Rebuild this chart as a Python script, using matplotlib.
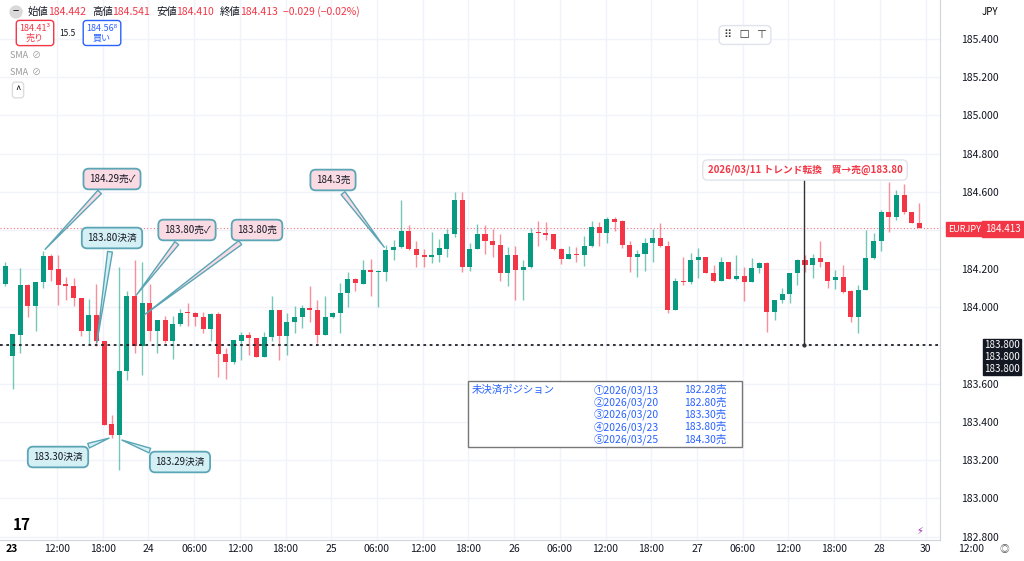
import numpy as np
import matplotlib
matplotlib.use("Agg")
import matplotlib.pyplot as plt

plt.rcParams['font.family'] = ['Noto Sans CJK JP', 'DejaVu Sans']

# hourly EURJPY candles, first one is 23rd ~05:00
opens = [184.121, 183.745, 183.855, 184.116, 184.006, 184.128, 184.267, 184.197, 184.121, 184.110,
         184.046, 183.872, 183.957, 183.820, 183.390, 183.332, 183.663, 184.058, 183.797, 184.020,
         183.872, 183.933, 183.820, 183.912, 183.975, 183.968, 183.947, 183.884, 183.964, 183.755,
         183.710, 183.820, 183.855, 183.837, 183.741, 183.842, 183.985, 183.846, 183.924, 183.950,
         183.997, 183.982, 183.855, 183.947, 183.968, 184.072, 184.145, 184.121, 184.194, 184.182,
         184.180, 184.295, 184.312, 184.397, 184.305, 184.272, 184.263, 184.269, 184.302, 184.382,
         184.556, 184.211, 184.302, 184.382, 184.347, 184.324, 184.176, 184.272, 184.194, 184.208,
         184.389, 184.385, 184.382, 184.303, 184.251, 184.276, 184.272, 184.319, 184.420, 184.385,
         184.458, 184.450, 184.324, 184.260, 184.276, 184.336, 184.359, 184.319, 183.985, 184.136,
         184.128, 184.243, 184.260, 184.176, 184.138, 184.237, 184.145, 184.164, 184.129, 184.203,
         184.232, 183.976, 184.034, 184.067, 184.176, 184.243, 184.220, 184.255, 184.234, 184.142,
         184.154, 184.081, 183.950, 184.089, 184.255, 184.342, 184.498, 184.469, 184.585, 184.498,
         184.441]
highs = [184.237, 183.860, 184.203, 184.121, 184.131, 184.290, 184.277, 184.272, 184.159, 184.150,
         184.046, 184.041, 184.121, 183.820, 183.437, 184.211, 184.081, 184.246, 184.237, 184.121,
         183.933, 183.954, 183.954, 183.988, 184.023, 183.976, 183.976, 183.971, 183.976, 183.785,
         183.825, 183.867, 183.867, 183.837, 183.867, 184.058, 183.985, 183.968, 184.006, 184.011,
         184.107, 184.037, 184.055, 183.976, 184.124, 184.180, 184.150, 184.246, 184.249, 184.194,
         184.324, 184.350, 184.556, 184.427, 184.345, 184.302, 184.389, 184.354, 184.406, 184.601,
         184.601, 184.333, 184.434, 184.429, 184.408, 184.382, 184.312, 184.319, 184.246, 184.411,
         184.450, 184.444, 184.382, 184.307, 184.316, 184.312, 184.368, 184.451, 184.444, 184.472,
         184.469, 184.455, 184.342, 184.295, 184.359, 184.408, 184.441, 184.342, 184.150, 184.263,
         184.281, 184.307, 184.260, 184.220, 184.260, 184.237, 184.272, 184.208, 184.255, 184.237,
         184.237, 184.034, 184.098, 184.176, 184.253, 184.272, 184.277, 184.342, 184.234, 184.194,
         184.220, 184.089, 184.116, 184.403, 184.385, 184.504, 184.655, 184.611, 184.643, 184.498,
         184.542]
lows = [184.110, 183.571, 183.759, 183.950, 183.872, 184.098, 184.133, 184.011, 184.037, 184.006,
        183.846, 183.802, 183.794, 183.385, 183.315, 183.150, 183.620, 183.762, 183.646, 183.820,
        183.762, 183.811, 183.727, 183.898, 183.898, 183.898, 183.863, 183.820, 183.634, 183.623,
        183.703, 183.724, 183.750, 183.741, 183.741, 183.820, 183.724, 183.750, 183.863, 183.889,
        183.924, 183.811, 183.855, 183.942, 183.863, 184.002, 184.081, 184.121, 184.055, 184.002,
        184.133, 184.243, 184.307, 184.298, 184.208, 184.211, 184.232, 184.237, 184.263, 184.364,
        184.185, 184.190, 184.302, 184.276, 184.263, 184.133, 184.110, 184.037, 184.037, 184.203,
        184.319, 184.350, 184.298, 184.223, 184.251, 184.237, 184.215, 184.312, 184.316, 184.336,
        184.399, 184.309, 184.180, 184.159, 184.190, 184.234, 184.312, 183.968, 183.982, 184.116,
        184.121, 184.150, 184.176, 184.128, 184.133, 184.145, 184.142, 184.029, 184.129, 184.176,
        183.867, 183.933, 184.023, 184.020, 184.116, 184.185, 184.150, 184.211, 184.098, 184.093,
        184.075, 183.924, 183.863, 184.089, 184.249, 184.290, 184.394, 184.455, 184.486, 184.437,
        184.411]
closes = [184.215, 183.860, 184.116, 184.006, 184.131, 184.267, 184.194, 184.116, 184.107, 184.046,
          183.872, 183.957, 183.820, 183.385, 183.332, 183.663, 184.058, 183.797, 184.020, 183.872,
          183.933, 183.820, 183.912, 183.971, 183.968, 183.947, 183.884, 183.964, 183.755, 183.710,
          183.825, 183.855, 183.837, 183.741, 183.842, 183.985, 183.846, 183.924, 183.950, 183.997,
          183.982, 183.855, 183.947, 183.968, 184.072, 184.145, 184.124, 184.194, 184.182, 184.185,
          184.295, 184.312, 184.397, 184.302, 184.272, 184.263, 184.269, 184.307, 184.382, 184.556,
          184.211, 184.302, 184.382, 184.347, 184.324, 184.176, 184.272, 184.194, 184.208, 184.385,
          184.385, 184.378, 184.303, 184.251, 184.276, 184.270, 184.319, 184.420, 184.385, 184.458,
          184.446, 184.324, 184.260, 184.276, 184.336, 184.359, 184.319, 183.985, 184.136, 184.128,
          184.243, 184.260, 184.176, 184.138, 184.237, 184.145, 184.164, 184.129, 184.203, 184.232,
          183.976, 184.034, 184.067, 184.176, 184.246, 184.220, 184.255, 184.234, 184.138, 184.154,
          184.079, 183.950, 184.089, 184.255, 184.342, 184.498, 184.469, 184.585, 184.498, 184.437,
          184.413]

price_ticks = [182.8, 183.0, 183.2, 183.4, 183.6, 183.8, 184.0, 184.2, 184.4, 184.6, 184.8, 185.0, 185.2, 185.4]
time_ticks = [12, 18, 24, 30, 36, 42, 48, 54, 60, 66, 72, 78, 84, 90, 96, 102, 108, 114, 120, 126]
time_labels = ["12:00", "18:00", "24", "06:00", "12:00", "18:00", "25", "06:00", "12:00", "18:00", "26",
               "06:00", "12:00", "18:00", "27", "06:00", "12:00", "18:00", "28", "30"]
last_price = 184.413
trend_price = 183.80
positions = ["①2026/03/13", "②2026/03/20", "③2026/03/20", "④2026/03/23", "⑤2026/03/25"]
pos_prices = ["182.28売", "182.80売", "183.30売", "183.80売", "184.30売"]

UP, DN = '#089981', '#f23645'
W, H = 1024, 561

def fp(x, y):
    return (x / W, 1 - y / H)

fig = plt.figure(figsize=(W / 100, H / 100), dpi=100)
ax = fig.add_axes([0, 21 / H, 940 / W, 540 / H])
hours = np.arange(len(opens)) + 5.18

for t in time_ticks:
    ax.axvline(t, color='#f0f3fa', lw=1, zorder=0)
for p in price_ticks:
    ax.axhline(p, color='#f0f3fa', lw=1, zorder=0)

for h, o, hi, lo, c in zip(hours, opens, highs, lows, closes):
    col = UP if c >= o else DN
    ax.vlines(h, lo, hi, color=col, lw=1, alpha=0.55, zorder=2)
    ax.bar(h, max(abs(c - o), 0.004), bottom=min(o, c), width=0.66, color=col, zorder=3, lw=0)

ax.axhline(trend_price, color='#222', ls=(0, (1.5, 2)), lw=1.3, zorder=4)
ax.axhline(last_price, color=DN, ls=(0, (1, 2)), lw=0.8, alpha=0.7, zorder=1)

# right price axis
ax.set_yticks(price_ticks)
ax.yaxis.tick_right()
ax.set_yticklabels(["" if p in (183.8, 184.4) else f"{p:.3f}" for p in price_ticks],
                   fontsize=7.5, color='#131722')
ax.tick_params(axis='y', length=0, pad=15)
ax.set_xticks(time_ticks)
ax.set_xticklabels(time_labels, fontsize=7.5, color='#131722')
ax.tick_params(axis='x', length=0, pad=3)
ax.set_xlim(4.52, 127.9)
ax.set_ylim(182.783, 185.603)
for s in ['top', 'left']:
    ax.spines[s].set_visible(False)
ax.spines['right'].set_color('#d1d4dc')
ax.spines['bottom'].set_color('#d1d4dc')
fig.text(*fp(12, 549), "23", fontsize=7.5, fontweight='bold', ha='center', va='center')
fig.text(*fp(971, 549), "12:00", fontsize=7.5, color='#131722', ha='center', va='center')

# price labels on the axis
fig.text(*fp(965, 229), "EURJPY", fontsize=6.5, color='white', ha='center', va='center',
         bbox=dict(boxstyle='square,pad=0.3', fc=DN, ec=DN))
fig.text(*fp(1003, 229), f"{last_price:.3f}", fontsize=7, color='white', ha='center', va='center',
         bbox=dict(boxstyle='square,pad=0.3', fc=DN, ec=DN))
for yy in [345, 357, 369]:
    fig.text(*fp(1002, yy), f"{trend_price:.3f}", fontsize=7, color='white', ha='center', va='center',
             bbox=dict(boxstyle='square,pad=0.15', fc='#131722', ec='#131722'))
fig.text(*fp(990, 12), "JPY", fontsize=7, ha='center', va='center')
fig.text(*fp(1004, 549), "◎", fontsize=7, color='#555', ha='center', va='center')

# header
x0 = 28
for lab, val in [("始値", "184.442"), ("高値", "184.541"), ("安値", "184.410"), ("終値", "184.413")]:
    fig.text(*fp(x0, 12), lab, fontsize=7.5, color='#131722', va='center')
    fig.text(*fp(x0 + 20, 12), val, fontsize=7.5, color=DN, va='center')
    x0 += 64
fig.text(*fp(x0 - 1, 12), "−0.029 (−0.02%)", fontsize=7.5, color=DN, va='center')
fig.text(*fp(16, 12), "−", fontsize=8, ha='center', va='center',
         bbox=dict(boxstyle='circle,pad=0.15', fc='#d9d9d9', ec='none'))
fig.text(*fp(35, 33), "184.41³\n売り", fontsize=6.5, color=DN, ha='center', va='center', linespacing=1.1,
         bbox=dict(boxstyle='round,pad=0.35', fc='white', ec=DN))
fig.text(*fp(67, 33), "15.5", fontsize=6, color='#131722', ha='center', va='center')
fig.text(*fp(102, 33), "184.56⁸\n買い", fontsize=6.5, color='#2962ff', ha='center', va='center', linespacing=1.1,
         bbox=dict(boxstyle='round,pad=0.35', fc='white', ec='#2962ff'))
fig.text(*fp(10, 56), "SMA  ⊘", fontsize=6.5, color='#999', va='center')
fig.text(*fp(10, 72), "SMA  ⊘", fontsize=6.5, color='#999', va='center')
fig.text(*fp(18, 90), "^", fontsize=7, ha='center', va='center',
         bbox=dict(boxstyle='round,pad=0.3', fc='white', ec='#ddd'))
fig.text(*fp(745, 35), "⠿   ☐   ⊤", fontsize=8, color='#333', ha='center', va='center',
         bbox=dict(boxstyle='round,pad=0.4', fc='white', ec='#e0e3eb'))
fig.text(*fp(22, 525), "17", fontsize=11, fontweight='bold', ha='center', va='center')
fig.text(*fp(920, 531), "⚡", fontsize=7, color='#9c27b0', ha='center', va='center')

# callouts
PINK, BLUE, EDGE = '#fadbe4', '#d4f0f5', '#5ba5b5'
callouts = [
    ("184.29売✓", (112, 179), (5, 184.29), PINK),
    ("183.80決済", (112, 238), (12, 183.80), BLUE),
    ("183.80売✓", (187, 230), (17, 184.05), PINK),
    ("183.80売", (257, 230), (18, 183.95), PINK),
    ("184.3売", (333, 180), (50, 184.30), PINK),
    ("183.30決済", (58, 457), (14, 183.32), BLUE),
    ("183.29決済", (180, 462), (15, 183.31), BLUE),
]
for txt, (bx, by), (ci, py), fc in callouts:
    ax.annotate(txt, xy=(hours[ci], py), xycoords='data', xytext=fp(bx, by), textcoords='figure fraction',
                fontsize=7, ha='center', va='center', color='#131722', zorder=6,
                bbox=dict(boxstyle='round,pad=0.55', fc=fc, ec=EDGE, lw=1.3),
                arrowprops=dict(arrowstyle='wedge,tail_width=0.5', fc=fc, ec=EDGE, lw=1.0))

# trend change marker
tx = hours[105] - 0.1
ax.plot([tx, tx], [trend_price, 184.70], color='#333', lw=1, zorder=5)
ax.plot([tx], [trend_price], 'o', color='#333', ms=2, zorder=5)
fig.text(*fp(805, 170), "2026/03/11 トレンド転換　買→売@183.80", fontsize=7, color=DN, ha='center',
         va='center', fontweight='bold', bbox=dict(boxstyle='round,pad=0.5', fc='white', ec='#e0e3eb'))

# open positions box
fig.patches.append(plt.Rectangle(fp(468, 447), 274 / W, 66 / H, transform=fig.transFigure,
                                 fc='white', ec='#777', lw=1, zorder=7))
fig.text(*fp(472, 390), "未決済ポジション", fontsize=7.5, color='#2962ff', va='center', zorder=8)
for k, (d, p) in enumerate(zip(positions, pos_prices)):
    yy = 390 + k * 12.3
    fig.text(*fp(594, yy), d, fontsize=7.5, color='#2962ff', va='center', zorder=8)
    fig.text(*fp(684, yy), p, fontsize=7.5, color='#2962ff', va='center', zorder=8)

fig.savefig("out.png", dpi=100)
